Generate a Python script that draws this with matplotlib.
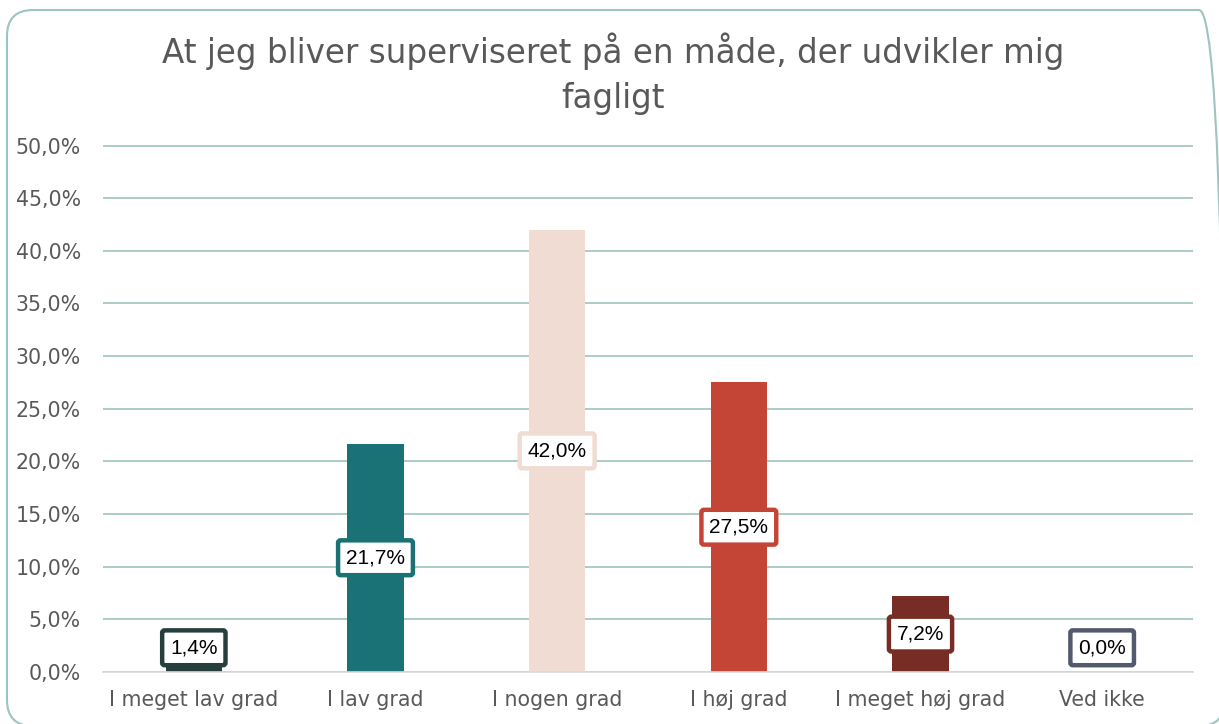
import matplotlib.pyplot as plt
from matplotlib.patches import FancyBboxPatch
from matplotlib.transforms import IdentityTransform

categories = ['I meget lav grad', 'I lav grad', 'I nogen grad', 'I høj grad', 'I meget høj grad', 'Ved ikke']
values = [1.4, 21.7, 42.0, 27.5, 7.2, 0.0]
colors = ['#263F3D', '#1A7276', '#F0DCD3', '#C44536', '#772D25', '#545A6E']
title = 'At jeg bliver superviseret på en måde, der udvikler mig\nfagligt'
yticks = [0, 5, 10, 15, 20, 25, 30, 35, 40, 45, 50]

plt.rcParams['font.family'] = ['DejaVu Sans']

fig = plt.figure(figsize=(12.19, 7.24), dpi=100)
W, H = 1219, 724

# rounded outer frame (pixel coords, origin bottom-left), cut off at right/bottom
frame = FancyBboxPatch((7, -2), 1218, 716,
                       boxstyle='round,pad=0,rounding_size=26',
                       transform=IdentityTransform(), facecolor='none',
                       edgecolor='#9DC4BF', linewidth=1.5, zorder=-1)
fig.patches.append(frame)

ax = fig.add_axes([103 / W, 1 - 672 / H, 1090 / W, 527 / H])
ax.set_facecolor('none')

x = range(len(categories))
ax.bar(x, values, width=0.31, color=colors, zorder=2)

for i, v in enumerate(values):
    ypos = max(v / 2, 2.3)
    ax.text(i, ypos, f'{v:.1f}%'.replace('.', ','), ha='center', va='center',
            fontsize=15, family=['Liberation Sans', 'DejaVu Sans'], color='black', zorder=4,
            bbox=dict(boxstyle='round,pad=0.38,rounding_size=0.12', facecolor='white',
                      edgecolor=colors[i], linewidth=3.2))

ax.set_xlim(-0.5, len(categories) - 0.5)
ax.set_ylim(0, 50.05)
ax.set_yticks(yticks)
ax.set_yticklabels([f'{t:.1f}%'.replace('.', ',') for t in yticks])
ax.set_xticks(list(x))
ax.set_xticklabels(categories)
ax.tick_params(axis='both', length=0, labelsize=14.8, labelcolor='#595959')
ax.tick_params(axis='x', pad=13)
ax.tick_params(axis='y', pad=16)

ax.grid(axis='y', color='#9DC4BF', linewidth=1.2, zorder=0)
ax.set_axisbelow(True)
for s in ['top', 'right', 'left']:
    ax.spines[s].set_visible(False)
ax.spines['bottom'].set_color('#D9D9D9')
ax.spines['bottom'].set_linewidth(1.2)
ax.spines['bottom'].set_zorder(3)

fig.text(613 / W, 1 - 74 / H, title, ha='center', va='center', fontsize=23.5,
         color='#595959', linespacing=1.45)

fig.savefig('out.png', dpi=100)
